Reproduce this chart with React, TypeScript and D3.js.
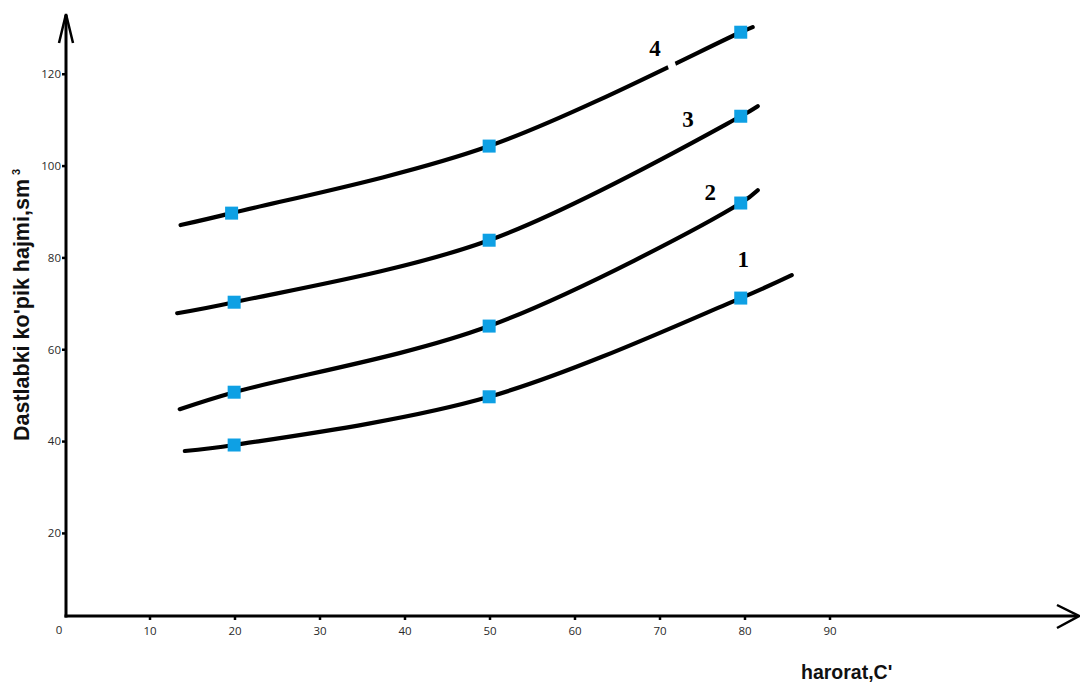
import React from 'react';
import * as d3 from 'd3';

// values (x = harorat, y = ko'pik hajmi)
const curve1 = [[14.1, 37.9], [19.9, 39.2], [49.9, 49.7], [79.5, 71.2], [85.5, 76.2]];
const curve2 = [[13.5, 47.0], [19.9, 50.7], [49.9, 65.1], [79.5, 91.9], [81.5, 94.7]];
const curve3 = [[13.2, 67.9], [19.9, 70.3], [49.9, 83.8], [79.5, 110.8], [81.5, 113.0]];
const curve4 = [[13.6, 87.1], [19.6, 89.7], [49.9, 104.3], [79.5, 129.1], [80.9, 130.2]];
const curves = [curve1, curve2, curve3, curve4];

// measured points (the squares) are the middle three of each curve
const markerIdx = [1, 2, 3];

const curveLabels = [
  { text: '1', x: 79.8, y: 78.0, gap: false },
  { text: '2', x: 75.9, y: 92.6, gap: false },
  { text: '3', x: 73.3, y: 108.4, gap: false },
  { text: '4', x: 69.4, y: 123.9, gap: true },
];

const xTicks = [10, 20, 30, 40, 50, 60, 70, 80, 90];
const yTicks = [20, 40, 60, 80, 100, 120];

const width = 1080;
const height = 686;

const App = () => {
  const x = d3.scaleLinear().domain([0, 90]).range([65, 830]);
  const y = d3.scaleLinear().domain([0, 120]).range([625, 74]);

  const axisY = 616;
  const axisX = 66;

  const line = d3.line<number[]>()
    .x(d => x(d[0]))
    .y(d => y(d[1]))
    .curve(d3.curveCatmullRom.alpha(0.5));

  const tickFont = "'Open Sans', 'DejaVu Sans', sans-serif";
  const sq = 13;

  return (
    <svg width={width} height={height} style={{ position: 'absolute', left: 0, top: 0, background: '#fff' }}>
      {/* curves */}
      {curves.map((c, i) => (
        <path key={i} d={line(c) || ''} fill="none" stroke="#000" strokeWidth={4.2} strokeLinecap="round" />
      ))}

      {/* labels with white knock-out behind */}
      {curveLabels.map(l => (
        <g key={l.text}>
          {l.gap && (
            <rect x={x(l.x) + 12} y={y(l.y) - 1} width={8} height={16} fill="#fff" transform={`rotate(-20, ${x(l.x) + 16}, ${y(l.y) + 7})`} />
          )}
          <text
            x={x(l.x)}
            y={y(l.y)}
            textAnchor="middle"
            fontFamily="'Liberation Serif', 'Times New Roman', serif"
            fontWeight="bold"
            fontSize={23}
            fill="#000"
          >
            {l.text}
          </text>
        </g>
      ))}

      {/* markers */}
      {curves.map((c, i) => (
        <g key={'m' + i}>
          {markerIdx.map(j => (
            <rect
              key={j}
              x={x(c[j][0]) - sq / 2}
              y={y(c[j][1]) - sq / 2}
              width={sq}
              height={sq}
              fill="#0ea0e4"
            />
          ))}
        </g>
      ))}

      {/* y axis */}
      <line x1={axisX} y1={axisY + 1.5} x2={axisX} y2={15} stroke="#000" strokeWidth={3} />
      <polyline points={`59,43 ${axisX},14 73,43`} fill="none" stroke="#000" strokeWidth={2.5} />
      {yTicks.map(t => (
        <g key={t}>
          <rect x={axisX - 4} y={y(t) - 1} width={3} height={2.5} fill="#000" />
          <text x={axisX - 5} y={y(t) + 4} textAnchor="end" fontFamily={tickFont} fontSize={11.5} fill="#2a2a2a">{t}</text>
        </g>
      ))}

      {/* x axis */}
      <line x1={axisX - 1.5} y1={axisY} x2={1078} y2={axisY} stroke="#000" strokeWidth={3} />
      <polyline points={`1057,605 1079,616 1057,628`} fill="none" stroke="#000" strokeWidth={2.5} />
      {xTicks.map(t => (
        <g key={t}>
          <rect x={x(t) - 1.25} y={axisY + 1} width={2.5} height={3} fill="#000" />
          <text x={x(t)} y={axisY + 19} textAnchor="middle" fontFamily={tickFont} fontSize={11.5} fill="#2a2a2a">{t}</text>
        </g>
      ))}
      <text x={x(0) - 6} y={axisY + 18} textAnchor="middle" fontFamily={tickFont} fontSize={11.5} fill="#2a2a2a">0</text>

      {/* axis titles */}
      <text
        transform={`translate(29, 441) rotate(-90)`}
        fontFamily="'Liberation Sans', Arial, sans-serif"
        fontWeight="bold"
        fontSize={21.5}
        fill="#111"
      >
        Dastlabki ko'pik hajmi,sm
        <tspan fontSize={11} dx={4} dy={-9}>3</tspan>
      </text>
      <text
        x={801}
        y={679}
        fontFamily="'Liberation Sans', Arial, sans-serif"
        fontWeight="bold"
        fontSize={19.5}
        fill="#111"
      >
        harorat,C'
      </text>
    </svg>
  );
};

export default App;
